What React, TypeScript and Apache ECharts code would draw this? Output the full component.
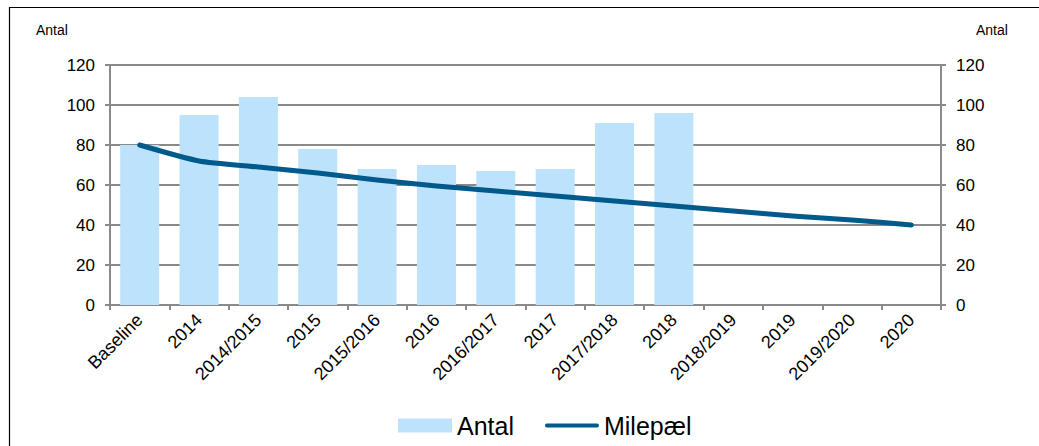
import React, { useEffect, useRef } from "react";
import * as echarts from "echarts";

const categories = [
  "Baseline", "2014", "2014/2015", "2015", "2015/2016", "2016", "2016/2017",
  "2017", "2017/2018", "2018", "2018/2019", "2019", "2019/2020", "2020",
];
const antal = [80, 95, 104, 78, 68, 70, 67, 68, 91, 96, null, null, null, null];
const milepael = [80, 72, 69, 66, 62.5, 59.5, 57, 54.5, 52, 49.5, 47, 44.5, 42.5, 40];
const yMin = 0;
const yMax = 120;
const yInterval = 20;

const FONT = "Liberation Sans, Arial, sans-serif";
const GRAY = "#8a8a8a";
const LINE_COLOR = "#005a8c";

export default function App() {
  const ref = useRef<HTMLDivElement>(null);
  useEffect(() => {
    if (!ref.current) return;
    const chart = echarts.init(ref.current, null, { renderer: "svg" });
    const yAxisCommon = {
      type: "value" as const,
      min: yMin,
      max: yMax,
      interval: yInterval,
      axisLine: { show: true, lineStyle: { color: GRAY, width: 2 } },
      axisTick: { show: true, length: 5, lineStyle: { color: GRAY, width: 2 } },
      axisLabel: { color: "#000", fontSize: 17, fontFamily: FONT, margin: 15 },
    };
    chart.setOption({
      animation: false,
      backgroundColor: "#fff",
      grid: { left: 110, right: 98, top: 65, bottom: 141, containLabel: false },
      graphic: [
        {
          type: "rect",
          shape: { x: 9.5, y: 7.5, width: 1200, height: 600 },
          style: { fill: "none", stroke: "#000", lineWidth: 1.2 },
          silent: true,
        },
        {
          type: "text",
          x: 36,
          y: 30,
          style: { text: "Antal", fontSize: 14, fontFamily: FONT, fill: "#000", verticalAlign: "middle" },
        },
        {
          type: "text",
          x: 976,
          y: 30,
          style: { text: "Antal", fontSize: 14, fontFamily: FONT, fill: "#000", verticalAlign: "middle" },
        },
      ],
      legend: {
        left: 393,
        top: 408,
        itemWidth: 54,
        itemHeight: 14,
        itemGap: 31,
        textStyle: { fontSize: 25, fontFamily: FONT, color: "#000" },
        data: [
          { name: "Antal", icon: "rect" },
          {
            name: "Milepæl",
            icon: "path://M2,0 L54,0 A2,2 0 0 1 54,4 L2,4 A2,2 0 0 1 2,0 Z",
            itemStyle: { color: LINE_COLOR },
          },
        ],
      },
      xAxis: {
        type: "category",
        data: categories,
        boundaryGap: true,
        axisLine: { show: true, lineStyle: { color: GRAY, width: 2 } },
        axisTick: { show: true, alignWithLabel: false, length: 5, lineStyle: { color: GRAY, width: 2 } },
        axisLabel: {
          rotate: 45,
          interval: 0,
          color: "#000",
          fontSize: 18,
          fontFamily: FONT,
          margin: 12,
        },
        splitLine: { show: false },
      },
      yAxis: [
        {
          ...yAxisCommon,
          position: "left",
          splitLine: { show: true, lineStyle: { color: GRAY, width: 2 } },
        },
        {
          ...yAxisCommon,
          position: "right",
          splitLine: { show: false },
        },
      ],
      series: [
        {
          name: "Antal",
          type: "bar",
          data: antal,
          barWidth: 39,
          itemStyle: { color: "#bde2fb" },
          yAxisIndex: 0,
          z: 2,
        },
        {
          name: "Milepæl",
          type: "line",
          data: milepael,
          symbol: "none",
          smooth: 0.2,
          lineStyle: { color: LINE_COLOR, width: 5, cap: "round", join: "round" },
          itemStyle: { color: LINE_COLOR },
          yAxisIndex: 0,
          z: 3,
        },
      ],
    });
    return () => chart.dispose();
  }, []);
  return (
    <div
      ref={ref}
      style={{ position: "fixed", left: 0, top: 0, width: 1039, height: 446 }}
    />
  );
}
